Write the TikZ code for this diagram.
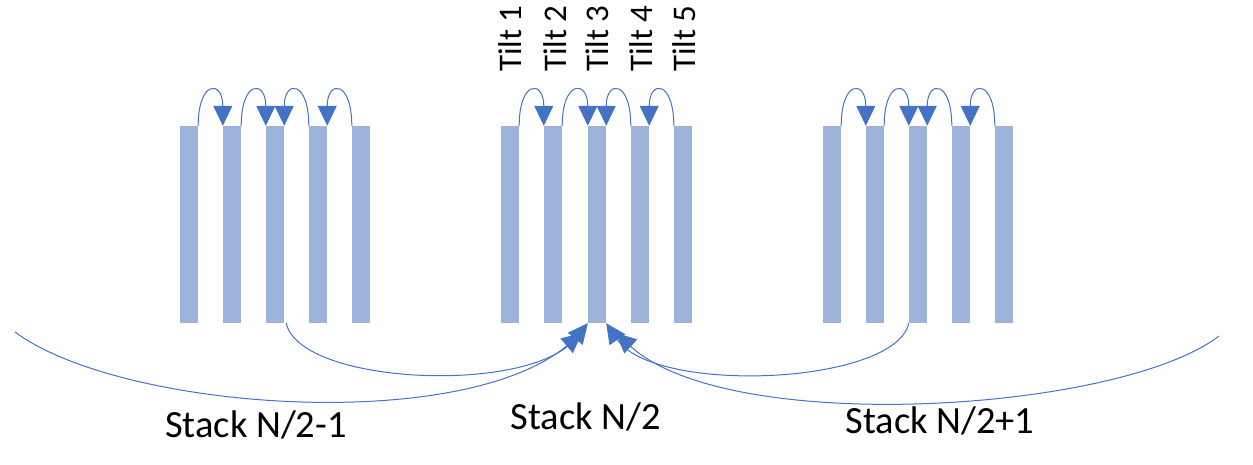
\documentclass[tikz,border=0pt]{standalone}
\usepackage{fontspec}
\setmainfont{Carlito}
\usetikzlibrary{arrows.meta}
\definecolor{barblue}{HTML}{9DB3DB}
\definecolor{arrblue}{HTML}{4472C4}
\begin{document}
\begin{tikzpicture}[x=1pt,y=-1pt,
  bar/.style={rectangle,fill=barblue,draw=none,inner sep=0pt,minimum width=18pt,minimum height=197pt},
  conn/.style={draw=arrblue,line width=1pt,-{Triangle[length=20pt,width=19pt]}},
  tiltlbl/.style={rotate=90,anchor=west,inner sep=0pt,font=\fontsize{33}{36}\selectfont},
  stacklbl/.style={anchor=base,inner sep=0pt,font=\fontsize{38.5}{44}\selectfont}]
\useasboundingbox (0,0) rectangle (1253,465);
% bars
\foreach \n/\x in {L1/189,L2/232,L3/275,L4/318,L5/361,
                   M1/510,M2/553,M3/597,M4/640,M5/683,
                   R1/832,R2/875,R3/918,R4/961,R5/1004}
  \node[bar] (\n) at (\x,224.5) {};
% tilt labels
\node[tiltlbl] (t1) at (510,72) {Tilt 1};
\node[tiltlbl] (t2) at (555,72) {Tilt 2};
\node[tiltlbl] (t3) at (597,72) {Tilt 3};
\node[tiltlbl] (t4) at (641,72) {Tilt 4};
\node[tiltlbl] (t5) at (684,72) {Tilt 5};
% top arcs
\foreach \s in {L,M,R}{
  \draw[conn] (\s1.north east) .. controls +(0,-46) and +(0,-46) .. (\s2.north west);
  \draw[conn] (\s2.north east) .. controls +(0,-46) and +(0,-46) .. (\s3.north west);
  \draw[conn] (\s4.north west) .. controls +(0,-46) and +(0,-46) .. (\s3.north east);
  \draw[conn] (\s5.north west) .. controls +(0,-46) and +(0,-46) .. (\s4.north east);
}
% bottom curves
\coordinate (lo) at (15,332);
\coordinate (ro) at (1219,336);
\coordinate (lend) at (582,333);
\coordinate (rend) at (616,333);
\draw[conn] ([xshift=2pt]L3.south east) .. controls (300,385) and (530,395) .. (M3.south west);
\draw[conn] (lo) .. controls (120,410) and (460,435) .. (lend);
\draw[conn] (R3.south west) .. controls (895,385) and (655,395) .. (M3.south east);
\draw[conn] (ro) .. controls (1120,412) and (730,437) .. (rend);
% stack labels
\node[stacklbl] (s1) at (256,437) {Stack N/2-1};
\node[stacklbl] (s2) at (586,429) {Stack N/2};
\node[stacklbl] (s3) at (940,433) {Stack N/2+1};
\end{tikzpicture}
\end{document}
